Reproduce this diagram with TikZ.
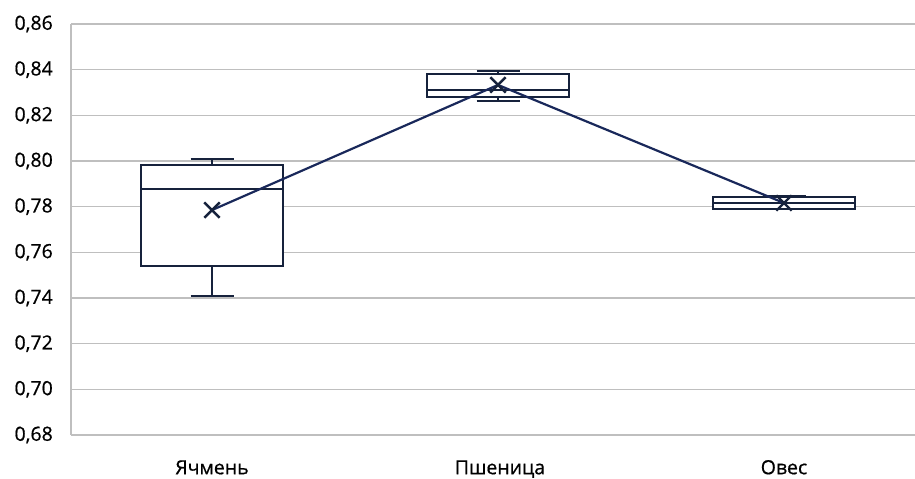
\documentclass[tikz,border=0pt]{standalone}
\usepackage{fontspec}
\setmainfont{Open Sans}[UprightFeatures={FakeBold=0.7}]
\usetikzlibrary{shapes.misc}
\definecolor{gridgray}{RGB}{191,191,191}
\definecolor{boxnavy}{RGB}{22,34,60}
\definecolor{meannavy}{RGB}{25,40,90}
\begin{document}
\begin{tikzpicture}[x=1pt, y=22.833pt,
    grid/.style={draw=gridgray, line width=1.6pt},
    boxplot/.style={draw=boxnavy, line width=2.2pt, fill=white},
    whisker/.style={draw=boxnavy, line width=2.2pt},
    meanline/.style={draw=meannavy, line width=2.2pt},
    meanmark/.style={cross out, draw=boxnavy, line width=2.4pt, minimum size=13pt, inner sep=0pt},
    ticklabel/.style={anchor=east, inner sep=0pt, font=\fontsize{19.5}{20}\selectfont},
    catlabel/.style={anchor=base, inner sep=0pt, font=\fontsize{19.5}{20}\selectfont}]
  \useasboundingbox (0,-1.927) rectangle (915,19.05);
  % сетка и подписи оси
  \foreach \v/\lab in {0/{0,68}, 2/{0,70}, 4/{0,72}, 6/{0,74}, 8/{0,76}, 10/{0,78}, 12/{0,80}, 14/{0,82}, 16/{0,84}, 18/{0,86}} {
    \draw[grid] (71,\v) -- (915,\v);
    \node[ticklabel] (tick\v) at (53,\v) {\lab};
  }
  \draw[grid] (71,0) -- (71,18);
  % ящики с усами
  \foreach \cx/\lo/\qa/\md/\qb/\hi/\mn/\nm in {212/6.09/7.40/10.77/11.825/12.09/9.85/ya,
      498/14.63/14.80/15.11/15.81/15.94/15.33/ps,
      784/9.88/9.90/10.16/10.42/10.45/10.16/ov} {
    \draw[whisker] (\cx,\lo) -- (\cx,\hi);
    \draw[whisker] (\cx-21.5,\lo) -- (\cx+21.5,\lo);
    \draw[whisker] (\cx-21.5,\hi) -- (\cx+21.5,\hi);
    \draw[boxplot] (\cx-71,\qa) rectangle (\cx+71,\qb);
    \draw[whisker] (\cx-71,\md) -- (\cx+71,\md);
    \coordinate (m\nm) at (\cx,\mn);
  }
  % средние
  \draw[meanline] (mya) -- (mps) -- (mov);
  \node[meanmark] (xya) at (mya) {};
  \node[meanmark] (xps) at (mps) {};
  \node[meanmark] (xov) at (mov) {};
  % категории
  \node[catlabel] (ya) at (212,-1.72) {Ячмень};
  \node[catlabel] (ps) at (500,-1.72) {Пшеница};
  \node[catlabel] (ov) at (784,-1.72) {Овес};
\end{tikzpicture}
\end{document}
